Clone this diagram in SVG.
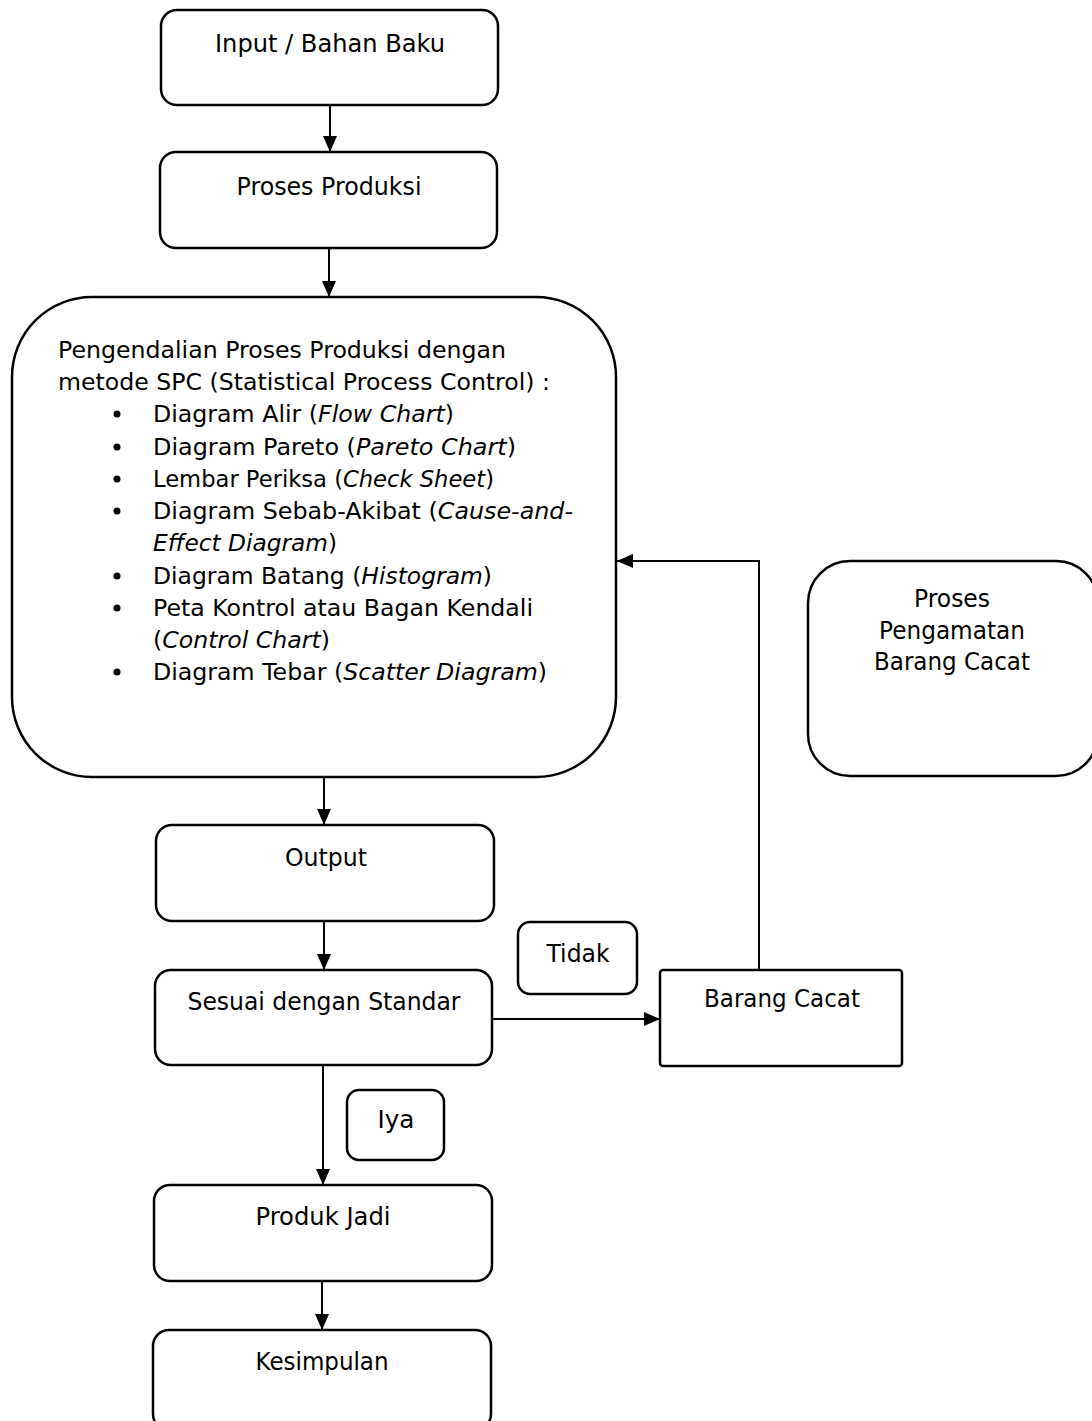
<svg xmlns="http://www.w3.org/2000/svg" width="1092" height="1421" viewBox="0 0 1092 1421">
<style>
.box{fill:#fff;stroke:#000;stroke-width:2.5}
.t{font-family:"DejaVu Sans","Liberation Sans",sans-serif;font-size:24px;fill:#000}
.s{font-size:23px}
.c{text-anchor:middle}
.i{font-style:italic}
.ln{fill:none;stroke:#000;stroke-width:2}
</style>
<defs>
<marker id="ah" viewBox="0 0 16 14" refX="16" refY="7" markerWidth="16" markerHeight="14" markerUnits="userSpaceOnUse" orient="auto">
<path d="M0,0 L16,7 L0,14 Z" fill="#000"/>
</marker>
</defs>
<rect width="1092" height="1421" fill="#fff"/>
<g id="connectors">
<line class="ln" x1="330" y1="105" x2="330" y2="152" marker-end="url(#ah)"/>
<line class="ln" x1="329" y1="248" x2="329" y2="297" marker-end="url(#ah)"/>
<line class="ln" x1="324" y1="777" x2="324" y2="825" marker-end="url(#ah)"/>
<line class="ln" x1="324" y1="921" x2="324" y2="970" marker-end="url(#ah)"/>
<line class="ln" x1="492" y1="1019" x2="660" y2="1019" marker-end="url(#ah)"/>
<polyline class="ln" points="759,970 759,561 617,561" marker-end="url(#ah)"/>
<line class="ln" x1="323" y1="1065" x2="323" y2="1185" marker-end="url(#ah)"/>
<line class="ln" x1="322" y1="1281" x2="322" y2="1330" marker-end="url(#ah)"/>
</g>
<g id="input">
<rect class="box" x="161" y="10" width="337" height="95" rx="16"/>
<text class="t c" x="330" y="52" textLength="230" lengthAdjust="spacingAndGlyphs">Input / Bahan Baku</text>
</g>
<g id="proses-produksi">
<rect class="box" x="160" y="152" width="337" height="96" rx="16"/>
<text class="t c" x="329" y="195" textLength="185" lengthAdjust="spacingAndGlyphs">Proses Produksi</text>
</g>
<g id="spc">
<rect class="box" x="12" y="297" width="604" height="480" rx="80"/>
<text class="t s" x="58" y="358" textLength="448" lengthAdjust="spacingAndGlyphs">Pengendalian Proses Produksi dengan</text>
<text class="t s" x="58" y="390" textLength="492" lengthAdjust="spacingAndGlyphs">metode SPC (Statistical Process Control) :</text>
<g fill="#000">
<circle cx="117" cy="414" r="3.5"/>
<circle cx="117" cy="447" r="3.5"/>
<circle cx="117" cy="479" r="3.5"/>
<circle cx="117" cy="511" r="3.5"/>
<circle cx="117" cy="576" r="3.5"/>
<circle cx="117" cy="608" r="3.5"/>
<circle cx="117" cy="672" r="3.5"/>
</g>
<text class="t s" x="153" y="422" textLength="301" lengthAdjust="spacingAndGlyphs">Diagram Alir (<tspan class="i">Flow Chart</tspan>)</text>
<text class="t s" x="153" y="455" textLength="363" lengthAdjust="spacingAndGlyphs">Diagram Pareto (<tspan class="i">Pareto Chart</tspan>)</text>
<text class="t s" x="153" y="487" textLength="341" lengthAdjust="spacingAndGlyphs">Lembar Periksa (<tspan class="i">Check Sheet</tspan>)</text>
<text class="t s" x="153" y="519" textLength="420" lengthAdjust="spacingAndGlyphs">Diagram Sebab-Akibat (<tspan class="i">Cause-and-</tspan></text>
<text class="t s" x="153" y="551" textLength="184" lengthAdjust="spacingAndGlyphs"><tspan class="i">Effect Diagram</tspan>)</text>
<text class="t s" x="153" y="584" textLength="339" lengthAdjust="spacingAndGlyphs">Diagram Batang (<tspan class="i">Histogram</tspan>)</text>
<text class="t s" x="153" y="616" textLength="380" lengthAdjust="spacingAndGlyphs">Peta Kontrol atau Bagan Kendali</text>
<text class="t s" x="153" y="648" textLength="177" lengthAdjust="spacingAndGlyphs">(<tspan class="i">Control Chart</tspan>)</text>
<text class="t s" x="153" y="680" textLength="394" lengthAdjust="spacingAndGlyphs">Diagram Tebar (<tspan class="i">Scatter Diagram</tspan>)</text>
</g>
<g id="pengamatan">
<rect class="box" x="808" y="561" width="290" height="215" rx="42"/>
<text class="t c" x="952" y="607" textLength="76" lengthAdjust="spacingAndGlyphs">Proses</text>
<text class="t c" x="952" y="639" textLength="146" lengthAdjust="spacingAndGlyphs">Pengamatan</text>
<text class="t c" x="952" y="670" textLength="156" lengthAdjust="spacingAndGlyphs">Barang Cacat</text>
</g>
<g id="output">
<rect class="box" x="156" y="825" width="338" height="96" rx="16"/>
<text class="t c" x="326" y="866" textLength="82" lengthAdjust="spacingAndGlyphs">Output</text>
</g>
<g id="tidak">
<rect class="box" x="518" y="922" width="119" height="72" rx="12"/>
<text class="t c" x="578" y="962" textLength="63" lengthAdjust="spacingAndGlyphs">Tidak</text>
</g>
<g id="sesuai">
<rect class="box" x="155" y="970" width="337" height="95" rx="16"/>
<text class="t c" x="324" y="1010" textLength="273" lengthAdjust="spacingAndGlyphs">Sesuai dengan Standar</text>
</g>
<g id="barang-cacat">
<rect class="box" x="660" y="970" width="242" height="96" rx="3"/>
<text class="t c" x="782" y="1007" textLength="156" lengthAdjust="spacingAndGlyphs">Barang Cacat</text>
</g>
<g id="iya">
<rect class="box" x="347" y="1090" width="97" height="70" rx="12"/>
<text class="t c" x="396" y="1128" textLength="37" lengthAdjust="spacingAndGlyphs">Iya</text>
</g>
<g id="produk-jadi">
<rect class="box" x="154" y="1185" width="338" height="96" rx="16"/>
<text class="t c" x="323" y="1225" textLength="135" lengthAdjust="spacingAndGlyphs">Produk Jadi</text>
</g>
<g id="kesimpulan">
<rect class="box" x="153" y="1330" width="338" height="100" rx="16"/>
<text class="t c" x="322" y="1370" textLength="133" lengthAdjust="spacingAndGlyphs">Kesimpulan</text>
</g>
</svg>
